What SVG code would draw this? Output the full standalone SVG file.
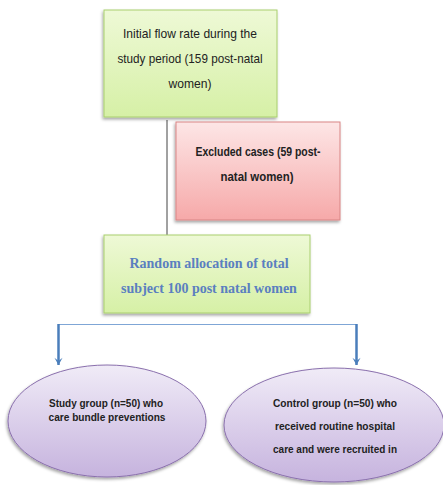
<svg xmlns="http://www.w3.org/2000/svg" width="443" height="485" viewBox="0 0 443 485">
<defs>
<linearGradient id="gGreen" x1="0" y1="0" x2="0" y2="1"><stop offset="0" stop-color="#eef9d6"/><stop offset="1" stop-color="#d6f0a6"/></linearGradient>
<linearGradient id="gRed" x1="0" y1="0" x2="0" y2="1"><stop offset="0" stop-color="#fde6e6"/><stop offset="1" stop-color="#f6a9a9"/></linearGradient>
<linearGradient id="gPurple" x1="0" y1="0" x2="0" y2="1"><stop offset="0" stop-color="#f0ebf7"/><stop offset="1" stop-color="#c6b3de"/></linearGradient>
<filter id="sh" x="-10%" y="-10%" width="120%" height="125%"><feDropShadow dx="-1" dy="2" stdDeviation="1.5" flood-color="#000" flood-opacity="0.35"/></filter>
<marker id="arr" viewBox="0 0 10 12" refX="5" refY="11" markerWidth="9" markerHeight="11" orient="0" markerUnits="userSpaceOnUse"><path d="M0.5,3 L5,11 L9.5,3 L5,6.5 Z" fill="#4a7ebb"/></marker>
</defs>
<style>
.box-g{fill:url(#gGreen);stroke:#a9cf6e;stroke-width:1;filter:url(#sh)}
.box-r{fill:url(#gRed);stroke:#d98585;stroke-width:1;filter:url(#sh)}
.ell{fill:url(#gPurple);stroke:#8a70ad;stroke-width:1;filter:url(#sh)}
.t{font-family:"Liberation Sans",sans-serif;fill:#222;text-anchor:middle}
.tb{font-weight:bold}
.tr{font-family:"Liberation Serif",serif;font-weight:bold;fill:#5a7fc0;text-anchor:middle;font-size:14px}
.hline{stroke:#7fa6d6;stroke-width:1;fill:none}
.shaft{stroke:#4a7ebb;stroke-width:2.5;fill:none}
</style>
<g id="connectors">
<line x1="167" y1="120" x2="167" y2="235" stroke="#444" stroke-width="1"/>
<line class="hline" x1="58" y1="324.5" x2="357" y2="324.5"/>
<line class="shaft" x1="58.5" y1="324" x2="58.5" y2="365" marker-end="url(#arr)"/>
<line class="shaft" x1="356.5" y1="324" x2="356.5" y2="365" marker-end="url(#arr)"/>
</g>
<g id="node-initial">
<rect class="box-g" x="104" y="10" width="173" height="107"/>
<text class="t" font-size="13" x="190" y="38" textLength="134" lengthAdjust="spacingAndGlyphs">Initial flow rate during the</text>
<text class="t" font-size="13" x="190" y="63" textLength="145" lengthAdjust="spacingAndGlyphs">study period (159 post-natal</text>
<text class="t" font-size="13" x="190" y="88" textLength="43" lengthAdjust="spacingAndGlyphs">women)</text>
</g>
<g id="node-excluded">
<rect class="box-r" x="176" y="122" width="164" height="98"/>
<text class="t tb" font-size="12.5" x="258" y="156" textLength="125" lengthAdjust="spacingAndGlyphs">Excluded cases (59 post-</text>
<text class="t tb" font-size="12.5" x="257" y="181" textLength="73" lengthAdjust="spacingAndGlyphs">natal women)</text>
</g>
<g id="node-random">
<rect class="box-g" x="104" y="235" width="206" height="78"/>
<text class="tr" x="209" y="268">Random allocation of total</text>
<text class="tr" x="209" y="293">subject 100 post natal women</text>
</g>
<g id="node-study">
<ellipse class="ell" cx="107" cy="421" rx="99" ry="56"/>
<text class="t tb" font-size="11.5" x="106" y="407" textLength="114" lengthAdjust="spacingAndGlyphs">Study group (n=50) who</text>
<text class="t tb" font-size="11.5" x="107" y="421" textLength="117" lengthAdjust="spacingAndGlyphs">care bundle preventions</text>
</g>
<g id="node-control">
<ellipse class="ell" cx="334" cy="425" rx="110" ry="57"/>
<text class="t tb" font-size="11.5" x="335" y="407" textLength="124" lengthAdjust="spacingAndGlyphs">Control group (n=50) who</text>
<text class="t tb" font-size="11.5" x="335" y="430" textLength="120" lengthAdjust="spacingAndGlyphs">received routine hospital</text>
<text class="t tb" font-size="11.5" x="335" y="453" textLength="124" lengthAdjust="spacingAndGlyphs">care and were recruited in</text>
</g>
</svg>
